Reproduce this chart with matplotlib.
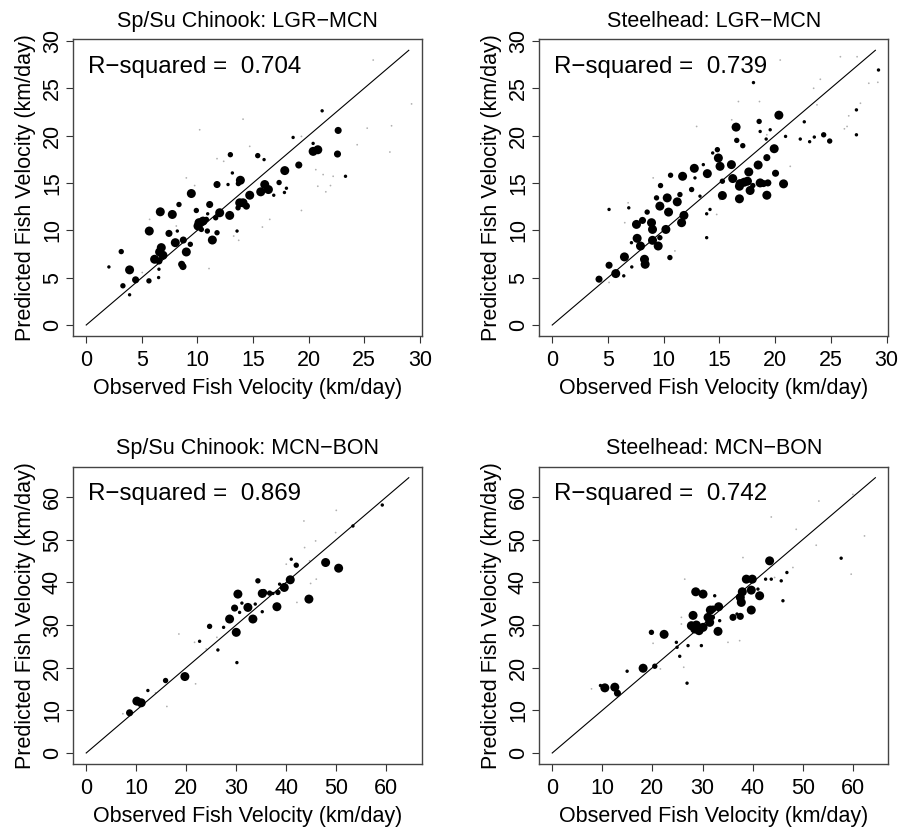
import numpy as np
import matplotlib
matplotlib.use("Agg")
import matplotlib.pyplot as plt

plt.rcParams["font.family"] = ["Liberation Sans", "DejaVu Sans"]

titles = ["Sp/Su Chinook: LGR\u2212MCN", "Steelhead: LGR\u2212MCN",
          "Sp/Su Chinook: MCN\u2212BON", "Steelhead: MCN\u2212BON"]
r2 = ["0.704", "0.739", "0.869", "0.742"]

# weight class of each fish group (0 = very few fish ... 4 = many fish)
# Sp/Su Chinook LGR-MCN
chin1_obs = [22.65, 20.4, 20.82, 22.59, 21.21, 12.96, 15.42, 15.99, 18.6, 19.35, 20.4, 23.31, 17.85, 19.11,
             17.34, 18.0, 17.82, 16.05, 16.38, 15.69, 16.86, 13.86, 13.68, 13.14, 12.75, 11.76, 14.7, 14.1,
             13.8, 14.4, 13.65, 9.45, 8.34, 11.1, 9.9, 6.66, 7.74, 10.92, 12.0, 10.8, 11.64, 12.9, 10.14,
             10.5, 10.05, 10.35, 10.89, 11.76, 11.34, 13.56, 5.67, 7.44, 8.19, 8.01, 8.73, 9.36, 9.0, 6.75,
             6.6, 6.9, 6.15, 6.54, 3.15, 8.58, 8.7, 3.9, 4.44, 5.64, 6.51, 2.04, 3.3, 3.9, 6.54,
             27.45, 27.3, 29.25, 25.8, 24.36, 25.26, 22.2, 21.54, 21.96, 20.82, 21.3, 20.64, 19.35, 16.5,
             15.84, 13.71, 13.26, 11.04, 8.1, 5.7, 5.04, 9.0, 9.75, 10.2, 14.1, 14.7, 11.76, 12.36]
chin1_pred = [20.54, 18.33, 18.5, 18.05, 22.61, 17.98, 17.88, 17.46, 19.8, 19.91, 19.17, 15.7, 16.3, 16.89,
              15.04, 14.44, 13.99, 14.83, 14.3, 14.06, 13.7, 15.28, 14.93, 16.05, 14.83, 14.83, 13.7, 12.9,
              12.9, 12.55, 12.37, 13.88, 12.72, 12.72, 12.09, 11.95, 11.67, 11.74, 11.85, 11.15, 11.32, 11.57,
              10.8, 10.97, 10.45, 10.09, 9.92, 9.74, 8.97, 9.92, 9.92, 9.67, 9.92, 8.69, 8.97, 8.52, 7.71,
              8.17, 7.71, 7.36, 6.94, 6.76, 7.75, 6.41, 6.17, 5.82, 4.77, 4.66, 5.01, 6.13, 4.14, 3.19, 5.89,
              21.03, 18.26, 23.34, 27.97, 19.03, 20.78, 15.7, 14.06, 14.72, 14.65, 15.88, 16.4, 12.09, 11.15,
              10.34, 8.94, 9.39, 5.96, 10.45, 11.15, 5.54, 15.53, 14.72, 20.61, 21.73, 18.86, 17.56, 17.28]
chin1_w = [3, 4, 4, 3, 1, 2, 2, 1, 1, 0, 1, 1, 4, 3,
           2, 1, 1, 4, 4, 4, 1, 4, 2, 1, 1, 3, 4, 4,
           4, 3, 2, 4, 2, 3, 2, 4, 4, 1, 4, 2, 2, 4, 4,
           4, 4, 2, 2, 2, 4, 1, 4, 3, 1, 4, 3, 2, 4, 4,
           4, 4, 4, 3, 2, 3, 3, 4, 3, 2, 1, 1, 2, 1, 1] + [0] * 28

# Steelhead LGR-MCN
stl1_obs = [20.34, 18.57, 16.5, 19.56, 18.66, 19.26, 16.56, 17.1, 18.06, 18.6, 19.92, 19.26, 19.2, 22.62,
            27.3, 24.36, 24.9, 23.52, 23.1, 22.26, 20.94, 26.22, 29.28, 29.22, 27.3, 14.82, 14.91, 15.06,
            16.08, 15.27, 18.48, 17.64, 20.04, 16.2, 16.86, 17.22, 17.52, 18.0, 16.8, 18.66, 18.96, 19.35,
            20.76, 17.76, 19.26, 16.8, 15.27, 12.75, 11.7, 10.62, 13.92, 13.56, 14.4, 12.81, 12.51, 13.26,
            9.72, 9.36, 10.32, 11.46, 9.66, 10.44, 11.22, 11.82, 11.61, 13.86, 14.16, 13.86, 8.52, 6.87,
            5.1, 7.56, 8.1, 8.91, 9.0, 10.2, 9.0, 9.66, 9.51, 7.62, 7.92, 7.11, 8.28, 8.34, 10.56, 6.48,
            7.14, 5.1, 5.7, 6.42, 4.2,
            26.46, 27.66, 28.41, 27.36, 25.86, 24.06, 23.46, 23.76, 26.61, 21.36, 20.46, 16.71, 16.11,
            12.96, 9.06, 6.81, 6.51, 5.1, 11.01, 14.76, 15.06]
stl1_pred = [22.15, 21.49, 20.89, 20.61, 20.43, 20.08, 19.49, 18.93, 25.59, 23.59, 18.61, 17.67, 19.63, 21.45,
             22.71, 20.08, 19.42, 19.84, 19.35, 19.63, 19.91, 20.71, 26.92, 25.62, 20.08, 18.51, 17.63, 16.75,
             16.93, 15.18, 16.89, 16.16, 16.02, 15.46, 14.93, 15.07, 15.18, 14.72, 14.65, 15.0, 14.93, 15.0,
             14.9, 14.2, 13.7, 13.32, 13.67, 16.54, 15.7, 15.81, 15.98, 16.93, 18.16, 15.53, 14.3, 13.6,
             14.72, 13.42, 13.42, 13.77, 12.55, 11.92, 13.0, 11.57, 10.8, 11.74, 12.2, 9.22, 11.92, 12.37,
             12.2, 10.62, 11.04, 10.8, 10.09, 10.09, 8.94, 9.22, 8.34, 9.15, 8.34, 8.69, 6.94, 6.41, 7.12, 7.19,
             6.13, 6.31, 5.43, 5.19, 4.84,
             20.96, 23.41, 25.52, 28.32, 28.32, 25.94, 24.99, 23.24, 22.08, 16.75, 27.97, 23.59, 21.66,
             20.96, 15.53, 12.9, 10.8, 4.49, 7.82, 11.67, 13.25]
stl1_w = [4, 2, 4, 1, 1, 0, 2, 2, 1, 0, 4, 3, 1, 1,
          1, 2, 2, 1, 1, 1, 1, 0, 1, 0, 1, 2, 4, 4,
          4, 2, 4, 4, 3, 4, 4, 4, 4, 2, 4, 4, 3, 3,
          4, 4, 4, 4, 4, 4, 4, 2, 4, 1, 1, 1, 2, 1,
          2, 2, 4, 2, 4, 4, 4, 4, 4, 1, 1, 1, 2, 1,
          1, 4, 3, 4, 4, 4, 4, 2, 4, 4, 4, 1, 4, 4, 2, 4,
          1, 3, 4, 1, 3] + [0] * 21

# Sp/Su Chinook MCN-BON
chin2_obs = [8.67, 10.13, 11.0, 12.33, 13.87, 15.87, 19.73, 26.33, 30.13, 22.67, 24.67, 27.47, 30.0, 28.67,
             29.67, 30.33, 33.33, 32.33, 33.8, 34.33, 35.2, 35.47, 36.67, 37.33, 35.2, 38.13, 38.33, 39.6,
             40.8, 41.0, 42.0, 44.53, 47.87, 50.47, 53.33, 59.2, 31.13, 30.67, 38.67,
             26.13, 24.0, 21.67, 18.53, 40.0, 43.67, 44.67, 45.87, 46.0, 44.87, 50.0, 49.87, 43.53, 7.33,
             16.13, 21.87, 42.13]
chin2_pred = [9.42, 12.15, 11.76, 14.64, 14.1, 16.98, 17.91, 24.14, 21.18, 26.17, 29.67, 29.44, 28.27, 31.39,
              33.96, 37.23, 31.39, 34.11, 34.89, 40.34, 37.38, 37.62, 37.46, 37.38, 33.1, 34.27, 37.62, 38.79,
              40.58, 45.4, 44.0, 36.06, 44.63, 43.3, 53.19, 58.1, 35.12, 32.94, 39.56,
              27.1, 24.38, 25.93, 27.88, 44.24, 48.13, 45.02, 49.69, 40.73, 39.72, 56.85, 51.64, 54.36, 9.19,
              10.9, 16.2, 35.28]
chin2_w = [3, 4, 4, 1, 0, 2, 4, 1, 1, 1, 2, 1, 4, 4,
           3, 4, 4, 4, 1, 2, 4, 3, 2, 1, 1, 4, 2, 4,
           4, 1, 2, 4, 4, 4, 1, 1, 1, 1, 1] + [0] * 17

# Steelhead MCN-BON
stl2_obs = [10.5, 12.49, 13.02, 9.63, 7.84, 14.95, 18.14, 20.47, 21.59, 19.8, 22.33, 24.78, 24.92, 25.45,
            26.91, 26.25, 28.11, 27.77, 28.44, 29.3, 30.1, 28.77, 31.43, 31.1, 31.56, 32.09, 33.22, 33.09,
            31.96, 28.64, 30.1, 32.43, 36.08, 37.54, 36.88, 37.94, 37.54, 37.74, 38.74, 39.93, 39.73, 41.4,
            41.06, 42.59, 43.72, 44.39, 45.71, 46.05, 43.39, 46.84, 48.04, 57.67, 39.73, 33.42, 25.78, 25.78,
            27.11, 29.77,
            35.08, 37.41, 48.7, 43.72, 52.69, 59.67, 62.33, 53.22, 60.0, 38.07, 26.45, 20.13]
stl2_pred = [15.26, 15.42, 14.02, 15.81, 15.03, 19.16, 19.86, 20.33, 19.7, 28.27, 27.8, 25.93, 24.77, 22.66,
             16.36, 20.09, 32.24, 29.83, 29.05, 28.66, 29.44, 29.98, 30.61, 31.78, 33.49, 33.72, 34.27, 28.5,
             31.78, 37.77, 37.23, 36.84, 31.78, 32.01, 32.55, 37.77, 36.45, 35.28, 40.73, 40.73, 38.16, 36.84,
             38.4, 40.73, 40.73, 41.12, 40.34, 35.67, 45.02, 42.29, 43.46, 45.64, 33.49, 31.0, 31.78, 30.22,
             25.16, 25.16,
             25.93, 26.32, 52.41, 55.3, 48.68, 41.9, 50.86, 59.03, 60.59, 45.79, 40.73, 25.7]
stl2_w = [4, 4, 3, 1, 0, 1, 4, 2, 0, 2, 4, 1, 1, 1,
          1, 0, 4, 4, 4, 4, 4, 4, 4, 4, 4, 3, 4, 4,
          2, 4, 4, 1, 3, 3, 1, 4, 4, 4, 4, 4, 4, 4,
          1, 1, 1, 0, 1, 1, 4, 1, 0, 1, 4, 1, 0, 0,
          1, 1] + [0] * 12

panels = [(chin1_obs, chin1_pred, chin1_w, 29.0, [0, 5, 10, 15, 20, 25, 30]),
          (stl1_obs, stl1_pred, stl1_w, 29.0, [0, 5, 10, 15, 20, 25, 30]),
          (chin2_obs, chin2_pred, chin2_w, 64.5, [0, 10, 20, 30, 40, 50, 60]),
          (stl2_obs, stl2_pred, stl2_w, 64.5, [0, 10, 20, 30, 40, 50, 60])]

W, H = 909, 833
fig = plt.figure(figsize=(W / 100, H / 100), dpi=100)

# axes boxes in pixels: left, top, right, bottom
boxes = [(73.3, 39.3, 421.7, 336.0), (539.3, 39.3, 888.3, 336.0),
         (73.3, 466.7, 421.7, 764.0), (539.3, 466.7, 888.3, 764.0)]

size_of = np.array([1.6, 6.0, 15.0, 26.0, 42.0])
fs = 15.5

for i, (obs, pred, w, top, ticks) in enumerate(panels):
    l, t, r, b = boxes[i]
    ax = fig.add_axes([l / W, 1 - b / H, (r - l) / W, (b - t) / H])
    obs = np.array(obs)
    pred = np.array(pred)
    w = np.array(w)
    lo = -0.04 * top
    hi = top * 1.04
    ax.set_xlim(lo, hi)
    ax.set_ylim(lo, hi)
    tiny = w == 0
    ax.scatter(obs[tiny], pred[tiny], s=size_of[w[tiny]], c="#b0b0b0", linewidths=0, zorder=2)
    ax.scatter(obs[~tiny], pred[~tiny], s=size_of[w[~tiny]], c="black", linewidths=0, zorder=3)
    ax.plot([0, top], [0, top], color="black", lw=0.8, zorder=4)

    ax.set_xticks(ticks)
    ax.set_yticks(ticks)
    ax.tick_params(direction="out", length=5, width=0.8, labelsize=fs, color="#333333")
    ax.tick_params(axis="x", pad=5)
    ax.tick_params(axis="y", pad=2.5)
    for lab in ax.get_yticklabels():
        lab.set_rotation(90)
        lab.set_va("center")
    for sp in ax.spines.values():
        sp.set_color("#444444")
        sp.set_linewidth(1.0)

    ax.set_title(titles[i], fontsize=fs, pad=9)
    ax.set_xlabel("Observed Fish Velocity (km/day)", fontsize=fs, labelpad=5)
    ax.set_ylabel("Predicted Fish Velocity (km/day)", fontsize=fs, labelpad=4)
    ax.text(0.043, 0.887, "R\u2212squared =  " + r2[i], transform=ax.transAxes,
            fontsize=17.4, ha="left", va="baseline")

fig.savefig("out.png", dpi=100)
